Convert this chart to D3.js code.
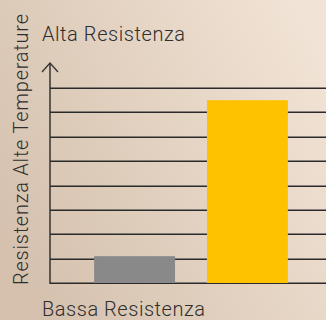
<!DOCTYPE html>
<html>
<head>
<meta charset="utf-8">
<script src="https://cdn.jsdelivr.net/npm/d3@7"></script>
<style>
  html, body { margin: 0; padding: 0; background: #e4d4c4; }
  svg { display: block; }
  text { font-family: Roboto, "Open Sans", sans-serif; font-weight: 300; fill: #2e2e2e; }
</style>
</head>
<body>
<script>
// Heat-resistance comparison: two products on a 0–8 scale
const categories = ["Bassa", "Alta"];
const values = [1.1, 7.5];
const barColors = ["#898989", "#ffc200"];
const gridTicks = [1, 2, 3, 4, 5, 6, 7, 8];
const topLabel = "Alta Resistenza";
const bottomLabel = "Bassa Resistenza";
const axisTitle = "Resistenza Alte Temperature";

const W = 326, H = 320;
const svg = d3.select("body").append("svg").attr("width", W).attr("height", H);

// warm beige background, darker toward the lower left
const defs = svg.append("defs");
const grad = defs.append("linearGradient").attr("id", "bg")
  .attr("x1", "0%").attr("y1", "70%").attr("x2", "100%").attr("y2", "20%");
grad.append("stop").attr("offset", "0%").attr("stop-color", "#d5c1ae");
grad.append("stop").attr("offset", "100%").attr("stop-color", "#f1e3d5");
svg.append("rect").attr("width", W).attr("height", H).attr("fill", "url(#bg)");

const axisX = 50;
const y = d3.scaleLinear().domain([0, 8]).range([283, 88]);
const x = d3.scaleBand().domain(categories).range([58, 324])
  .paddingInner(0.283).paddingOuter(0.32);

// horizontal grid lines, including the baseline
svg.append("g").selectAll("line").data([0, ...gridTicks]).join("line")
  .attr("x1", axisX).attr("x2", W)
  .attr("y1", d => Math.round(y(d)) + 0.25).attr("y2", d => Math.round(y(d)) + 0.25)
  .attr("stroke", "#2a2a2a").attr("stroke-width", 1.5);

// bars
svg.append("g").selectAll("rect").data(categories).join("rect")
  .attr("x", d => x(d)).attr("width", x.bandwidth())
  .attr("y", (d, i) => y(values[i]))
  .attr("height", (d, i) => y(0) - y(values[i]))
  .attr("fill", (d, i) => barColors[i]);

// vertical axis with arrowhead
const tipY = 63;
svg.append("line").attr("x1", axisX).attr("x2", axisX)
  .attr("y1", tipY).attr("y2", y(0) + 1)
  .attr("stroke", "#333").attr("stroke-width", 1.5);
svg.append("path")
  .attr("d", `M${axisX - 8},${tipY + 9}L${axisX},${tipY}L${axisX + 8},${tipY + 9}`)
  .attr("fill", "none").attr("stroke", "#333").attr("stroke-width", 1.3);

// labels
svg.append("text").attr("x", 42).attr("y", 41).attr("font-size", 20)
  .attr("textLength", 143).attr("lengthAdjust", "spacing").text(topLabel);
svg.append("text").attr("x", 42).attr("y", 316).attr("font-size", 20)
  .attr("textLength", 163).attr("lengthAdjust", "spacing").text(bottomLabel);
svg.append("text").attr("transform", "translate(28,285) rotate(-90)")
  .attr("font-size", 20)
  .attr("textLength", 271).attr("lengthAdjust", "spacing").text(axisTitle);
</script>
</body>
</html>
